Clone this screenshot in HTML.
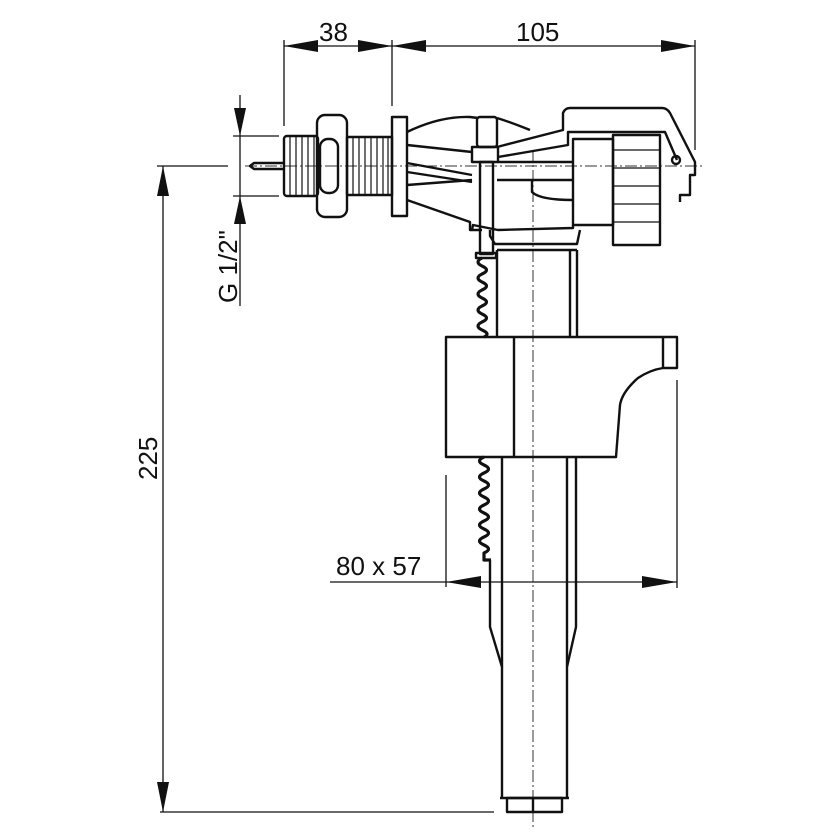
<!DOCTYPE html>
<html><head><meta charset="utf-8"><style>html,body{margin:0;padding:0;background:#fff}svg{display:block}</style></head><body>
<svg width="840" height="840" viewBox="0 0 840 840" xmlns="http://www.w3.org/2000/svg" font-family="Liberation Sans, sans-serif">
<g stroke="#111" fill="none" stroke-width="1.3">
<line x1="284" y1="40" x2="284" y2="126"/>
<line x1="392" y1="40" x2="392" y2="106"/>
<line x1="695" y1="40" x2="695" y2="150"/>
<line x1="284" y1="46" x2="695" y2="46"/>
<line x1="240" y1="95" x2="240" y2="306"/>
<line x1="233" y1="136" x2="279" y2="136"/>
<line x1="233" y1="196" x2="279" y2="196"/>
<line x1="163" y1="166" x2="163" y2="812"/>
<line x1="157" y1="166" x2="228" y2="166"/>
<line x1="160" y1="812" x2="494" y2="812"/>
<line x1="446" y1="475" x2="446" y2="587"/>
<line x1="677" y1="380" x2="677" y2="588"/>
<line x1="330" y1="582" x2="677" y2="582"/>
</g>
<g fill="#111">
<polygon points="284,46 318,40 318,52"/>
<polygon points="392,46 358,40 358,52"/>
<polygon points="392,46 426,40 426,52"/>
<polygon points="695,46 661,40 661,52"/>
<polygon points="240,136 234,108 246,108"/>
<polygon points="240,196 234,224 246,224"/>
<polygon points="163,166 157,196 169,196"/>
<polygon points="163,812 157,782 169,782"/>
<polygon points="446,582 481,576 481,588"/>
<polygon points="677,582 642,576 642,588"/>
</g>
<g fill="#111" font-size="26">
<text x="319" y="41">38</text>
<text x="516" y="41">105</text>
<text x="336" y="575">80 x 57</text>
<text transform="translate(237,303) rotate(-90)">G 1/2"</text>
<text transform="translate(157,480) rotate(-90)">225</text>
</g>
<g stroke="#333" stroke-width="1" stroke-dasharray="12,3,2,3" fill="none">
<line x1="245" y1="166" x2="705" y2="166"/>
<line x1="533" y1="150" x2="533" y2="830"/>
</g>
<g stroke="#111" fill="none" stroke-width="2.4" stroke-linejoin="round">
<path d="M283,163 L254,163 L250,166 L254,169 L283,169"/>
<rect x="284" y="136" width="34" height="60" rx="3"/>
<path d="M290,137V195M296,137V195M302,137V195M308,137V195M314,137V195" stroke-width="1.2"/>
<rect x="317" y="115" width="30" height="102" rx="8"/>
<rect x="320" y="139" width="18" height="54" rx="8"/>
<rect x="347" y="137" width="45" height="58"/>
<path d="M353,138V194M359,138V194M365,138V194M371,138V194M377,138V194M383,138V194M388,138V194" stroke-width="1.2"/>
<rect x="392" y="117" width="15" height="99"/>
<path d="M407,132 Q440,116 470,117 L478,118"/>
<path d="M407,145 L472,152"/>
<path d="M407,163 L472,175"/>
<path d="M407,172 L472,182"/>
<path d="M407,185 L472,180"/>
<path d="M407,200 L470,222 L470,230 L482,230"/>
<path d="M497,118 Q510,122 530,130"/>
<rect x="477" y="117" width="20" height="30" rx="3"/>
<rect x="472" y="147" width="26" height="15"/>
<rect x="480" y="162" width="13" height="92"/>
<rect x="476" y="253" width="20" height="5"/>
<path d="M497,147 L563,130 L563,113 Q565,108 570,108 L662,108 Q667,108 670,113 L695,162 L695,175 L690,175 L690,195 L680,195 L680,202"/>
<path d="M498,157 L568,145 L568,132 L665,132 L677,160"/>
<path d="M498,162 L573,162"/>
<path d="M497,180 L573,180 M532,180 L532,192 Q540,200 573,200"/>
<path d="M472,230 L473,225 L498,230 L573,228 L573,225"/>
<path d="M490,230 L490,236 L495,244 L577,244 L580,230"/>
<path d="M497,250 L577,250"/>
<rect x="573" y="139" width="40" height="86"/>
<rect x="613" y="135" width="47" height="110"/>
<path d="M613,150H660M613,168H660M613,186H660M613,204H660M613,222H660" stroke-width="1.3"/>
<circle cx="676" cy="160" r="4"/>
<path d="M497,250 L497,337 M577,250 L577,337 M570,250 L570,337"/>
<path d="M482,258 Q474,262 482,266 Q491,270 482,274 Q474,278 482,282 Q491,286 482,290 Q474,294 482,298 Q491,302 482,306 Q474,310 482,314 Q491,318 482,322 Q474,326 482,330 Q491,334 484,337" stroke-width="3.2"/>
<path d="M446,337 L677,337 L677,368 L663,368 Q650,370 638,378 Q622,392 620,405 L616,457 L446,457 Z"/>
<line x1="663" y1="337" x2="663" y2="368"/>
<line x1="514" y1="337" x2="514" y2="457"/>
<path d="M484,457 Q475,461 484,465 Q493,469 484,473 Q475,477 484,481 Q493,485 484,489 Q475,493 484,497 Q493,501 484,505 Q475,509 484,513 Q493,517 484,521 Q475,525 484,529 Q493,533 484,537 Q475,541 484,545 Q493,549 484,553 L484,560 L491,560" stroke-width="3.2"/>
<path d="M490,560 L490,627 L502,667 L502,798"/>
<path d="M502,457 L502,667"/>
<path d="M576,457 L576,627 L567,667 L567,798"/>
<path d="M567,457 L567,667"/>
<path d="M500,798 L569,798"/>
<rect x="507" y="798" width="55" height="14"/>
<line x1="533" y1="798" x2="533" y2="812"/>
</g>
</svg>
</body></html>
